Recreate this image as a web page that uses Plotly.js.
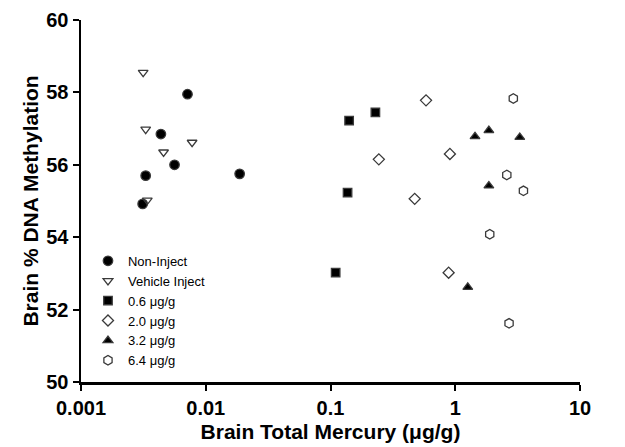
<!DOCTYPE html>
<html>
<head>
<meta charset="utf-8">
<script src="https://cdn.plot.ly/plotly-3.0.1.min.js"></script>
<style>html,body{margin:0;padding:0;background:#fff;}#chart{width:625px;height:447px;}</style>
</head>
<body>
<div id="chart"></div>
<script>
// Series data (x = brain total mercury, µg/g; y = brain % DNA methylation)
const seriesNames = ["Non-Inject", "Vehicle Inject", "0.6 \u03bcg/g", "2.0 \u03bcg/g", "3.2 \u03bcg/g", "6.4 \u03bcg/g"];

const nonInjectX = [0.00714, 0.00437, 0.00562, 0.0033, 0.0187, 0.00312];
const nonInjectY = [57.95, 56.85, 56.0, 55.7, 55.75, 54.92];

const vehicleX = [0.00315, 0.0033, 0.00777, 0.00459, 0.0034];
const vehicleY = [58.55, 56.98, 56.62, 56.35, 55.02];

const dose06X = [0.229, 0.141, 0.137, 0.110];
const dose06Y = [57.45, 57.22, 55.23, 53.02];

const dose20X = [0.583, 0.906, 0.244, 0.473, 0.885];
const dose20Y = [57.78, 56.3, 56.15, 55.06, 53.02];

const dose32X = [1.86, 1.44, 3.29, 1.86, 1.26];
const dose32Y = [56.95, 56.78, 56.76, 55.42, 52.62];

const dose64X = [2.92, 2.59, 3.52, 1.89, 2.7];
const dose64Y = [57.83, 55.72, 55.28, 54.08, 51.62];

const xTickVals = [0.001, 0.01, 0.1, 1, 10];
const xTickText = ["0.001", "0.01", "0.1", "1", "10"];
const yTickVals = [50, 52, 54, 56, 58, 60];

const FONT = "Liberation Sans, Arial, sans-serif";

const mk = (x, y, name, symbol, size) => ({
  x: x, y: y, name: name, type: "scatter", mode: "markers",
  marker: {symbol: symbol, size: size, color: symbol.indexOf("open") >= 0 ? "#3a3a3a" : "#000",
           line: {width: 1.3, color: "#3a3a3a"}},
  cliponaxis: false
});

const data = [
  mk(nonInjectX, nonInjectY, seriesNames[0], "circle", 9.5),
  mk(vehicleX, vehicleY, seriesNames[1], "triangle-down-open", 8.5),
  mk(dose06X, dose06Y, seriesNames[2], "square", 8.5),
  mk(dose20X, dose20Y, seriesNames[3], "diamond-open", 8.5),
  mk(dose32X, dose32Y, seriesNames[4], "triangle-up", 8.5),
  mk(dose64X, dose64Y, seriesNames[5], "hexagon-open", 9.5)
];

const axisFont = {family: FONT, size: 20, color: "#000", weight: "bold"};
const titleFont = {family: FONT, size: 21, color: "#000", weight: "bold"};

const layout = {
  width: 625, height: 447,
  margin: {l: 81, r: 45, t: 20, b: 65},
  paper_bgcolor: "#fff", plot_bgcolor: "#fff",
  showlegend: true,
  font: {family: FONT, color: "#000"},
  xaxis: {
    type: "log", range: [-3, 1],
    tickvals: xTickVals, ticktext: xTickText,
    showgrid: false, zeroline: false,
    showline: true, linecolor: "#000", linewidth: 2.5,
    ticks: "outside", ticklen: 6, tickwidth: 2, tickcolor: "#000",
    tickfont: axisFont,
    automargin: false,
    title: {text: "Brain Total Mercury (\u03bcg/g)", font: titleFont, standoff: 7}
  },
  yaxis: {
    range: [50, 60],
    tickvals: yTickVals,
    showgrid: false, zeroline: false,
    showline: true, linecolor: "#000", linewidth: 2.5,
    ticks: "outside", ticklen: 6, tickwidth: 2, tickcolor: "#000",
    tickfont: axisFont,
    automargin: false,
    title: {text: "Brain % DNA Methylation", font: titleFont, standoff: 2}
  },
  legend: {
    x: 0.014, y: 0.017, xanchor: "left", yanchor: "bottom",
    bgcolor: "rgba(0,0,0,0)",
    font: {family: FONT, size: 13, color: "#000"},
    tracegroupgap: 0, itemwidth: 30
  }
};

Plotly.newPlot("chart", data, layout, {displayModeBar: false, staticPlot: true});
</script>
</body>
</html>
